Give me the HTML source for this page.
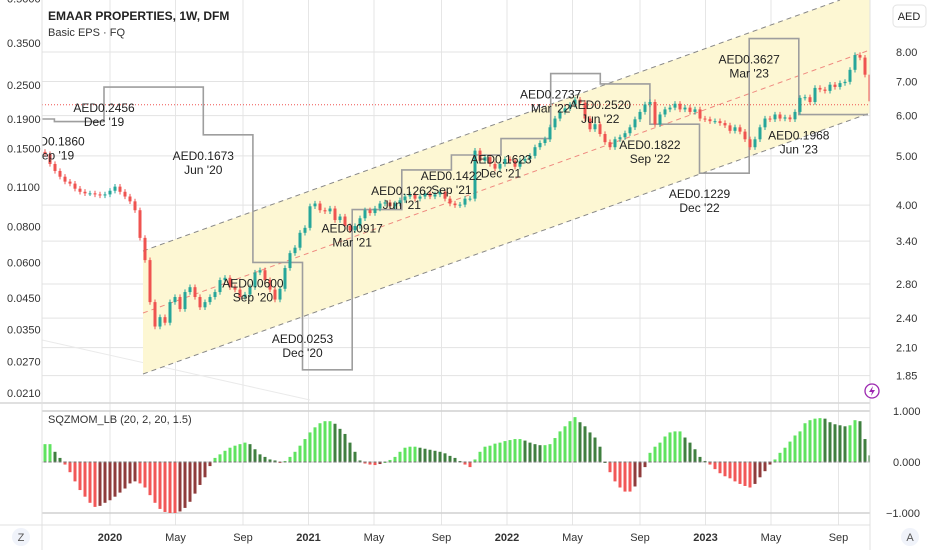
<!DOCTYPE html>
<html><head><meta charset="utf-8">
<style>
html,body{margin:0;padding:0;background:#fff;}
body{width:932px;height:550px;overflow:hidden;font-family:"Liberation Sans",sans-serif;}
svg text{font-family:"Liberation Sans",sans-serif;}
</style></head>
<body>
<svg id="chart" width="932" height="550" viewBox="0 0 932 550" xmlns="http://www.w3.org/2000/svg">
<defs><clipPath id="plotclip"><rect x="42" y="0" width="828" height="402"/></clipPath></defs>
</svg>
<script>
// ---- data ----
const closes = [5.04,4.82,4.67,4.55,4.45,4.41,4.31,4.25,4.22,4.22,4.20,4.18,4.20,4.27,4.35,4.25,4.16,4.07,3.91,3.45,3.12,2.58,2.31,2.41,2.35,2.58,2.64,2.50,2.70,2.76,2.64,2.52,2.58,2.64,2.70,2.85,2.88,2.76,2.73,2.64,2.67,2.76,2.95,2.98,2.85,2.73,2.61,2.74,3.01,3.22,3.30,3.53,3.61,3.98,4.03,3.91,3.89,3.94,3.74,3.80,3.64,3.57,3.64,3.77,3.91,3.86,3.94,4.03,4.05,3.98,4.03,4.09,4.16,4.20,4.12,4.16,4.22,4.16,4.20,4.25,4.12,4.03,4.00,4.01,4.12,4.12,5.12,4.89,4.97,4.82,4.72,4.82,4.93,4.89,4.76,4.89,4.93,5.00,5.20,5.30,5.39,5.69,5.92,6.10,6.20,6.30,6.45,6.36,5.92,5.64,5.77,5.52,5.32,5.20,5.39,5.44,5.54,5.69,5.90,6.10,6.31,6.38,5.77,6.03,6.17,6.22,6.33,6.17,6.22,6.10,6.17,5.92,5.90,5.85,5.85,5.80,5.74,5.60,5.69,5.58,5.39,5.20,5.39,5.69,5.92,5.90,6.03,5.92,5.95,5.90,6.10,6.50,6.52,6.38,6.80,6.75,6.71,6.90,6.83,6.95,6.99,7.38,7.89,7.80,7.22,6.40];
const momentum = [0.35,0.35,0.2,0.08,-0.05,-0.2,-0.38,-0.55,-0.68,-0.8,-0.88,-0.86,-0.8,-0.75,-0.68,-0.6,-0.52,-0.42,-0.38,-0.42,-0.5,-0.65,-0.8,-0.92,-0.98,-1.0,-1.0,-0.97,-0.9,-0.78,-0.62,-0.45,-0.3,-0.08,0.08,0.15,0.22,0.28,0.32,0.35,0.38,0.35,0.25,0.15,0.1,0.05,0.03,-0.02,0.02,0.1,0.2,0.32,0.45,0.58,0.68,0.76,0.8,0.8,0.75,0.65,0.55,0.38,0.2,0.03,-0.03,-0.05,-0.06,-0.04,0.0,0.04,0.1,0.2,0.28,0.3,0.3,0.28,0.26,0.24,0.22,0.2,0.17,0.12,0.08,0.02,-0.05,-0.1,0.05,0.2,0.3,0.32,0.36,0.38,0.41,0.43,0.45,0.45,0.42,0.38,0.35,0.33,0.33,0.35,0.47,0.6,0.7,0.8,0.88,0.78,0.7,0.58,0.48,0.3,0.0,-0.2,-0.38,-0.5,-0.58,-0.58,-0.48,-0.3,-0.1,0.18,0.3,0.38,0.5,0.58,0.6,0.6,0.48,0.38,0.25,0.1,0.02,-0.05,-0.14,-0.22,-0.28,-0.32,-0.38,-0.43,-0.47,-0.5,-0.43,-0.3,-0.18,-0.05,0.05,0.18,0.28,0.4,0.52,0.6,0.76,0.82,0.85,0.86,0.85,0.78,0.74,0.72,0.7,0.72,0.82,0.8,0.45,0.13];
const epsDates = [2019.66,2019.72,2019.97,2020.47,2020.72,2020.97,2021.22,2021.47,2021.72,2021.97,2022.22,2022.47,2022.72,2022.97,2023.22,2023.47];
const epsValues = [0.19,0.186,0.2456,0.1673,0.06,0.0253,0.0917,0.1262,0.1422,0.1623,0.2737,0.252,0.1822,0.1229,0.3627,0.1968];
const epsLabelVals = ["AED0.1860","AED0.2456","AED0.1673","AED0.0600","AED0.0253","AED0.0917","AED0.1262","AED0.1422","AED0.1623","AED0.2737","AED0.2520","AED0.1822","AED0.1229","AED0.3627","AED0.1968"];
const epsLabelPeriods = ["Sep '19","Dec '19","Jun '20","Sep '20","Dec '20","Mar '21","Jun '21","Sep '21","Dec '21","Mar '22","Jun '22","Sep '22","Dec '22","Mar '23","Jun '23"];
const epsLabelOffsets = [24,25,25,25,-27,23,25,25,25,25,25,25,25,25,25];
const priceTicks = [8.00,7.00,6.00,5.00,4.00,3.40,2.80,2.40,2.10,1.85];
const epsTicks = [0.5,0.35,0.25,0.19,0.15,0.11,0.08,0.06,0.045,0.035,0.027,0.021];
const momTicks = [1,0,-1];
const timeTickDates = [2020,2020.33,2020.67,2021,2021.33,2021.67,2022,2022.33,2022.67,2023,2023.33,2023.67];
const timeTickLabels = ["2020","May","Sep","2021","May","Sep","2022","May","Sep","2023","May","Sep"];
const lastPrice = 6.30;

// ---- scales ----
const svg = document.getElementById('chart');
const NS = 'http://www.w3.org/2000/svg';
const plotL = 42, plotR = 870;
function yPrice(p){ return 52 + (Math.log(8) - Math.log(p)) * 221; }
function yEps(v){ return 43 + Math.log(0.35 / v) * 124.4; }
function yMom(v){ return 462 - v * 51; }
function xDate(t){ return 110 + (t - 2020) * 198.5; }
function xBar(i){ return 45 + i * 5; }
function el(tag, attrs, parent){
  const e = document.createElementNS(NS, tag);
  for (const k in attrs) e.setAttribute(k, attrs[k]);
  (parent || svg).appendChild(e);
  return e;
}
function txt(s, attrs, parent){ const t = el('text', attrs, parent); t.textContent = s; return t; }

// grid
const grid = el('g', {});


timeTickDates.forEach(d => el('line', {x1:xDate(d), x2:xDate(d), y1:0, y2:525, stroke:'#e6e6e6', 'stroke-width':1}, grid));
priceTicks.forEach(p => el('line', {x1:plotL, x2:plotR, y1:yPrice(p), y2:yPrice(p), stroke:'#e3e3e3', 'stroke-width':1}, grid));
el('line', {x1:plotL, x2:plotR, y1:yMom(1), y2:yMom(1), stroke:'#d0d0d0', 'stroke-width':1.5}, grid);
el('line', {x1:plotL, x2:plotR, y1:yMom(-1), y2:yMom(-1), stroke:'#d0d0d0', 'stroke-width':1.5}, grid);
el('line', {x1:42, x2:310, y1:340, y2:400, stroke:'#eaeaea', 'stroke-width':1}, grid);

// channel
const ch = el('g', {});


const up = x => 251 + (x - 143) * (-0.36);
const lo = x => 374 + (x - 143) * (-0.359);
const mid = x => 313 + (x - 143) * (-0.3618);
el('polygon', {points:`143,${up(143)} ${(143+251/0.36).toFixed(1)},0 870,0 870,${lo(870)} 143,${lo(143)}`, fill:'#fdf7d3'}, ch);
el('line', {x1:143, y1:up(143), x2:840, y2:up(840), stroke:'#888', 'stroke-dasharray':'5,4', 'stroke-width':1}, ch);
el('line', {x1:143, y1:lo(143), x2:870, y2:lo(870), stroke:'#888', 'stroke-dasharray':'5,4', 'stroke-width':1}, ch);
el('line', {x1:143, y1:mid(143), x2:870, y2:mid(870), stroke:'#ef8a80', 'stroke-dasharray':'5,4', 'stroke-width':1}, ch);

// last price line
const lp = el('line', {x1:plotL, x2:plotR, y1:yPrice(lastPrice), y2:yPrice(lastPrice), stroke:'#ef5350', 'stroke-dasharray':'1,2', 'stroke-width':1});



// EPS step line
let pts = [];
for (let i = 0; i < epsValues.length; i++){
  const x0 = xDate(epsDates[i]);
  const x1 = i + 1 < epsDates.length ? xDate(epsDates[i+1]) : 868;
  const y = yEps(epsValues[i]);
  pts.push(`${x0.toFixed(1)},${y.toFixed(1)}`, `${x1.toFixed(1)},${y.toFixed(1)}`);
}
const eps = el('polyline', {points:pts.join(' '), fill:'none', stroke:'#9e9e9e', 'stroke-width':1.6});



// candles
const cg = el('g', {});


for (let i = 0; i < closes.length; i++){
  const c = closes[i], o = i > 0 ? closes[i-1] : c * 1.01;
  const col = c >= o ? '#26a69a' : '#ef5350';
  const x = xBar(i);
  const hi = Math.max(o, c) * 1.012, lw = Math.min(o, c) * 0.988;
  el('line', {x1:x, x2:x, y1:yPrice(hi), y2:yPrice(lw), stroke:col, 'stroke-width':1}, cg);
  const top = yPrice(Math.max(o, c)), bot = yPrice(Math.min(o, c));
  const r = el('rect', {x:x-1.5, y:top, width:3, height:Math.max(1, bot-top), fill:col}, cg);
  
  
}

// EPS labels
const lg = el('g', {'clip-path':'url(#plotclip)'});


for (let i = 0; i < epsLabelVals.length; i++){
  const x = xDate(epsDates[i+1]);
  const y = yEps(epsValues[i+1]) + epsLabelOffsets[i];
  const cx = i === 0 ? 54 : x;
  txt(epsLabelVals[i], {x:cx, y:y, 'text-anchor':'middle', 'font-size':12, fill:'#222'}, lg);
  txt(epsLabelPeriods[i], {x:cx, y:y+14, 'text-anchor':'middle', 'font-size':12, fill:'#222'}, lg);
}

// pane separators
el('line', {x1:0, x2:932, y1:403, y2:403, stroke:'#d6d6d6', 'stroke-width':1.5});
el('line', {x1:0, x2:932, y1:525, y2:525, stroke:'#e0e0e0', 'stroke-width':1});

// momentum histogram
el('line', {x1:plotL, x2:plotR, y1:yMom(0), y2:yMom(0), stroke:'#bbb', 'stroke-width':0.8, 'stroke-dasharray':'1,2'});
const mg = el('g', {});


for (let i = 0; i < momentum.length; i++){
  const v = momentum[i], pv = i > 0 ? momentum[i-1] : v;
  let col;
  if (v >= 0) col = v >= pv ? '#5fe35f' : '#3f7f3f';
  else col = v <= pv ? '#f25757' : '#8f3b3b';
  const x = xBar(i);
  const y0 = yMom(0), y1 = yMom(v);
  const b = el('rect', {x:x-1.5, y:Math.min(y0,y1), width:3, height:Math.max(1,Math.abs(y1-y0)), fill:col}, mg);
  
  
  el('line', {x1:x-1.5, x2:x+1.5, y1:y0, y2:y0, stroke:'#777', 'stroke-width':1}, mg);
}

// left axis panel
const la = el('g', {});


el('rect', {x:0, y:0, width:42, height:402, fill:'#fff'}, la);
epsTicks.forEach(v => txt(v.toFixed(4), {x:7, y:yEps(v)+4, 'font-size':11, fill:'#333'}, la));
el('line', {x1:42, x2:42, y1:0, y2:550, stroke:'#e0e0e0'}, la);

// right axis panel
const ra = el('g', {});


el('rect', {x:870, y:0, width:62, height:550, fill:'#fff'}, ra);
el('line', {x1:870, x2:870, y1:0, y2:550, stroke:'#e0e0e0'}, ra);
priceTicks.forEach(p => txt(p.toFixed(2), {x:896, y:yPrice(p)+4, 'font-size':11, fill:'#333'}, ra));
momTicks.forEach(v => txt((v < 0 ? '\u2212' : '') + Math.abs(v).toFixed(3), {x:v < 0 ? 886 : 893, y:yMom(v)+4, 'font-size':11, fill:'#333'}, ra));
const cur = el('rect', {x:893, y:5, width:33, height:22, rx:4, fill:'#fff', stroke:'#e3e3e3'}, ra);


txt('AED', {x:909, y:20, 'text-anchor':'middle', 'font-size':11, fill:'#222'}, ra);

// lightning icon
const li = el('g', {});


el('circle', {cx:872, cy:391, r:7, fill:'#fff', stroke:'#9c27b0', 'stroke-width':1.3}, li);
el('path', {d:'M873 386 L869 392 L872 392 L871 396 L875 390 L872 390 Z', fill:'#9c27b0'}, li);

// time axis
const ta = el('g', {});


timeTickDates.forEach((d, i) => {
  const bold = /^\d{4}$/.test(timeTickLabels[i]);
  txt(timeTickLabels[i], {x:xDate(d), y:541, 'text-anchor':'middle', 'font-size':11, 'font-weight':bold ? 'bold' : 'normal', fill:'#333'}, ta);
});
const zb = el('g', {});


el('circle', {cx:21, cy:537, r:9, fill:'#f0f3fa'}, zb);
txt('Z', {x:21, y:541, 'text-anchor':'middle', 'font-size':11, fill:'#555'}, zb);
const ab = el('g', {});


el('circle', {cx:910, cy:537, r:9, fill:'#f0f3fa'}, ab);
txt('A', {x:910, y:541, 'text-anchor':'middle', 'font-size':11, fill:'#555'}, ab);

// titles
const t1 = txt('EMAAR PROPERTIES, 1W, DFM', {x:48, y:20, 'font-size':12, 'font-weight':'bold', fill:'#222'});


const t2 = txt('Basic EPS \u00b7 FQ', {x:48, y:36, 'font-size':11, fill:'#333'});


const t3 = txt('SQZMOM_LB (20, 2, 20, 1.5)', {x:48, y:423, 'font-size':11, fill:'#333'});


</script>
</body></html>
